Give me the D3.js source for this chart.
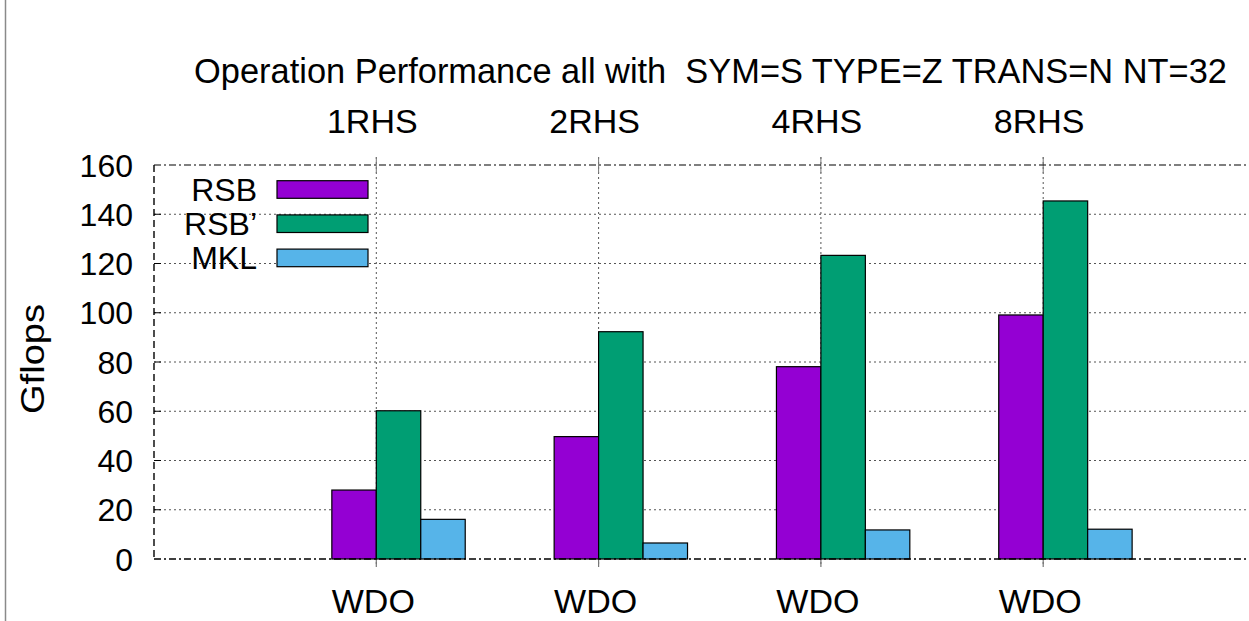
<!DOCTYPE html>
<html>
<head>
<meta charset="utf-8">
<script src="https://cdn.jsdelivr.net/npm/d3@7"></script>
<style>
  html, body { margin: 0; padding: 0; background: #fff; }
  svg { display: block; }
  text { font-family: "Liberation Sans", Arial, sans-serif; fill: #000; }
</style>
</head>
<body>
<script>
// ---- data ----
const groups = ["WDO", "WDO", "WDO", "WDO"];
const rhsLabels = ["1RHS", "2RHS", "4RHS", "8RHS"];
const seriesNames = ["RSB", "RSB\u2019", "MKL"];
const rsb  = [28.0, 49.7, 78.1, 99.1];
const rsbp = [60.2, 92.3, 123.3, 145.4];
const mkl  = [16.1, 6.5, 11.8, 12.1];
const yTicks = [0, 20, 40, 60, 80, 100, 120, 140, 160];
const titleText = "Operation Performance all with  SYM=S TYPE=Z TRANS=N NT=32";
const yLabel = "Gflops";

const seriesValues = [rsb, rsbp, mkl];
const colors = ["#9400D3", "#009E73", "#56B4E9"];

const W = 1249, H = 621;
const svg = d3.select("body").append("svg").attr("width", W).attr("height", H);

const plotL = 154, plotT = 165, plotB = 559;
const x = d3.scaleLinear().domain([-1, 4]).range([plotL, plotL + 5 * 222.3]);
const y = d3.scaleLinear().domain([0, 160]).range([plotB, plotT]);
const plotR = x(4);
const bw = 0.2;

// outer gray left line
svg.append("line").attr("x1", 5.5).attr("x2", 5.5).attr("y1", 0).attr("y2", H)
  .attr("stroke", "#8a8a8a").attr("stroke-width", 1.5);

// horizontal grid
const gGrid = svg.append("g");
yTicks.forEach(t => {
  if (t === 0 || t === 160) return;
  gGrid.append("line").attr("x1", plotL).attr("x2", plotR).attr("y1", y(t)).attr("y2", y(t))
    .attr("stroke", "#555").attr("stroke-width", 1).attr("stroke-dasharray", "2,3");
  gGrid.append("line").attr("x1", plotL).attr("x2", plotL + 7).attr("y1", y(t)).attr("y2", y(t))
    .attr("stroke", "#000").attr("stroke-width", 1);
});
// vertical grid at group ticks
groups.forEach((g, i) => {
  gGrid.append("line").attr("x1", x(i)).attr("x2", x(i)).attr("y1", plotT - 8).attr("y2", plotB + 8)
    .attr("stroke", "#555").attr("stroke-width", 1).attr("stroke-dasharray", "2,3");
  gGrid.append("line").attr("x1", x(i)).attr("x2", x(i)).attr("y1", plotB).attr("y2", plotB + 8)
    .attr("stroke", "#777").attr("stroke-width", 1.2);
  gGrid.append("line").attr("x1", x(i)).attr("x2", x(i)).attr("y1", plotT - 8).attr("y2", plotT + 8)
    .attr("stroke", "#777").attr("stroke-width", 1);
});

// bars
const gBars = svg.append("g");
seriesValues.forEach((vals, s) => {
  gBars.selectAll(null).data(vals).enter().append("rect")
    .attr("x", (d, i) => x(i - bw + s * bw))
    .attr("width", x(bw) - x(0))
    .attr("y", d => y(d))
    .attr("height", d => y(0) - y(d))
    .attr("fill", colors[s])
    .attr("stroke", "#000").attr("stroke-width", 1.2);
});

// border
svg.append("line").attr("x1", plotL).attr("x2", plotL).attr("y1", plotT).attr("y2", plotB)
  .attr("stroke", "#000").attr("stroke-width", 1.4).attr("stroke-dasharray", "7,4");
svg.append("line").attr("x1", plotL).attr("x2", plotR).attr("y1", plotT).attr("y2", plotT)
  .attr("stroke", "#000").attr("stroke-width", 1.2).attr("stroke-dasharray", "7,3,2,3");
svg.append("line").attr("x1", plotL).attr("x2", plotR).attr("y1", plotB).attr("y2", plotB)
  .attr("stroke", "#000").attr("stroke-width", 1.4).attr("stroke-dasharray", "7,3,2,3");

// y tick labels
svg.selectAll(null).data(yTicks).enter().append("text")
  .attr("x", 133).attr("y", d => y(d)).attr("dy", "0.36em")
  .attr("text-anchor", "end").style("font-size", "32px").text(d => d);

// x labels
svg.selectAll(null).data(groups).enter().append("text")
  .attr("x", (d, i) => x(i) - 3).attr("y", 613)
  .attr("text-anchor", "middle").style("font-size", "34px").text(d => d);
svg.selectAll(null).data(rhsLabels).enter().append("text")
  .attr("x", (d, i) => x(i) - 4).attr("y", 133)
  .attr("text-anchor", "middle").style("font-size", "34px").text(d => d);

// title
svg.append("text").attr("x", 710.5).attr("y", 83).attr("text-anchor", "middle")
  .attr("xml:space", "preserve").style("white-space", "pre")
  .style("font-size", "34.4px").text(titleText);

// y label
svg.append("text").attr("transform", "translate(44,359) rotate(-90)")
  .attr("text-anchor", "middle").style("font-size", "33px")
  .attr("textLength", 110).attr("lengthAdjust", "spacingAndGlyphs").text(yLabel);

// legend
const gLeg = svg.append("g");
seriesNames.forEach((n, i) => {
  const cy = 189.5 + i * 34.2;
  gLeg.append("text").attr("x", 257).attr("y", cy).attr("dy", "0.35em")
    .attr("text-anchor", "end").style("font-size", "32px").text(n);
  gLeg.append("rect").attr("x", 277).attr("y", cy - 8.8).attr("width", 91).attr("height", 17.6)
    .attr("fill", colors[i]).attr("stroke", "#000").attr("stroke-width", 1.2);
});
</script>
</body>
</html>
